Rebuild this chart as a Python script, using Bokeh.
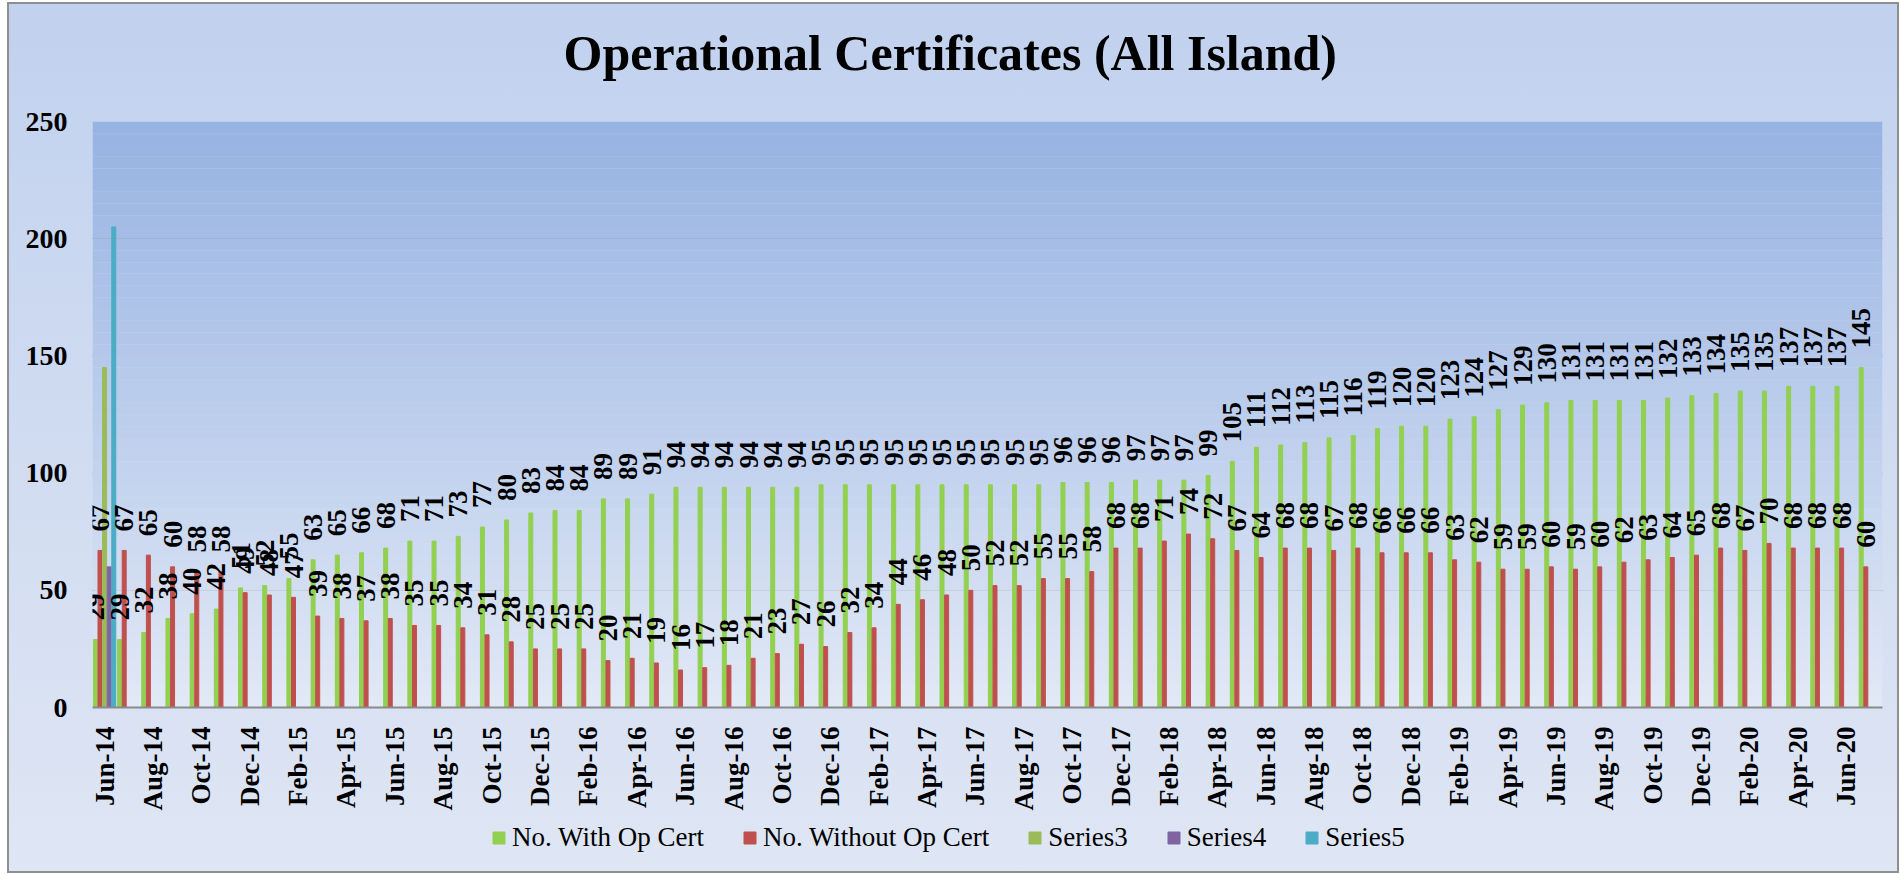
import math
from bokeh.plotting import figure
from bokeh.layouts import column
from bokeh.models import (ColumnDataSource, Range1d, FixedTicker, Legend, LegendItem,
                          BoxAnnotation)
from bokeh.transform import dodge
from bokeh.core.properties import value
from bokeh.embed import file_html
from bokeh.resources import INLINE

months = ["Jun-14", "Jul-14", "Aug-14", "Sep-14", "Oct-14", "Nov-14", "Dec-14",
          "Jan-15", "Feb-15", "Mar-15", "Apr-15", "May-15", "Jun-15", "Jul-15", "Aug-15",
          "Sep-15", "Oct-15", "Nov-15", "Dec-15",
          "Jan-16", "Feb-16", "Mar-16", "Apr-16", "May-16", "Jun-16", "Jul-16", "Aug-16",
          "Sep-16", "Oct-16", "Nov-16", "Dec-16",
          "Jan-17", "Feb-17", "Mar-17", "Apr-17", "May-17", "Jun-17", "Jul-17", "Aug-17",
          "Sep-17", "Oct-17", "Nov-17", "Dec-17",
          "Jan-18", "Feb-18", "Mar-18", "Apr-18", "May-18", "Jun-18", "Jul-18", "Aug-18",
          "Sep-18", "Oct-18", "Nov-18", "Dec-18",
          "Jan-19", "Feb-19", "Mar-19", "Apr-19", "May-19", "Jun-19", "Jul-19", "Aug-19",
          "Sep-19", "Oct-19", "Nov-19", "Dec-19",
          "Jan-20", "Feb-20", "Mar-20", "Apr-20", "May-20", "Jun-20", "Jul-20"]

with_cert = [29, 29, 32, 38, 40, 42, 51, 52, 55, 63, 65, 66, 68, 71, 71, 73, 77, 80, 83,
             84, 84, 89, 89, 91, 94, 94, 94, 94, 94, 94, 95, 95, 95, 95, 95, 95, 95, 95,
             95, 95, 96, 96, 96, 97, 97, 97, 99, 105, 111, 112, 113, 115, 116, 119, 120,
             120, 123, 124, 127, 129, 130, 131, 131, 131, 131, 132, 133, 134, 135, 135,
             137, 137, 137, 145]

without_cert = [67, 67, 65, 60, 58, 58, 49, 48, 47, 39, 38, 37, 38, 35, 35, 34, 31, 28,
                25, 25, 25, 20, 21, 19, 16, 17, 18, 21, 23, 27, 26, 32, 34, 44, 46, 48,
                50, 52, 52, 55, 55, 58, 68, 68, 71, 74, 72, 67, 64, 68, 68, 67, 68, 66,
                66, 66, 63, 62, 59, 59, 60, 59, 60, 62, 63, 64, 65, 68, 67, 70, 68, 68,
                68, 60]

series3 = [145]
series4 = [60]
series5 = [205]

y_ticks = [0, 50, 100, 150, 200, 250]

series_names = ["No. With Op Cert", "No. Without Op Cert", "Series3", "Series4", "Series5"]
series_colors = ["#92d050", "#c0504d", "#9bbb59", "#8064a2", "#4bacc6"]

title_text = "Operational Certificates (All Island)"

FONT = "Liberation Serif"


def strip(height):
    # frames of the column's plots are aligned with the main chart's frame (85..1875)
    f = figure(width=1892, height=height, output_backend="svg", toolbar_location=None,
               x_range=Range1d(85, 1875), y_range=Range1d(0, height),
               x_axis_type=None, y_axis_type=None,
               min_border_left=0, min_border_right=0, min_border_top=0,
               min_border_bottom=0)
    f.grid.visible = False
    f.border_fill_alpha = 0
    f.background_fill_alpha = 0
    f.outline_line_color = None
    return f


# ---- title strip
tf = strip(90)
tf.text(x=[556], y=[40], text=[title_text], text_align="left",
        text_baseline="alphabetic", text_font=value(FONT), text_font_style="bold",
        text_font_size="50px", text_color="black")

# ---- main chart
idx = list(range(len(months)))
src = ColumnDataSource(dict(
    x=idx, w=with_cert, wo=without_cert,
    wl=[str(v) for v in with_cert], wol=[str(v) for v in without_cert]))
src_extra = ColumnDataSource(dict(x=[0], s3=series3, s4=series4, s5=series5))

p = figure(frame_width=1790, frame_height=586, output_backend="svg",
           toolbar_location=None,
           x_range=Range1d(-0.5, len(months) - 0.5), y_range=Range1d(0, 250),
           min_border_left=85, min_border_right=17, min_border_top=29,
           min_border_bottom=105)
p.border_fill_alpha = 0
p.background_fill_alpha = 0
p.outline_line_color = None

# plot-area gradient
top_c = (0x96, 0xb2, 0xe2)
bot_c = (0xe2, 0xe9, 0xf6)
nb = 50
for i in range(nb):
    t = (i + 0.5) / nb
    c = tuple(int(round(bot_c[k] + (top_c[k] - bot_c[k]) * t)) for k in range(3))
    p.add_layout(BoxAnnotation(bottom=250 * i / nb, top=250 * (i + 1) / nb,
                               fill_color="#%02x%02x%02x" % c, fill_alpha=1.0,
                               line_color=None, level="underlay"))

W = 0.165
p.vbar(x=dodge("x", -0.38, range=p.x_range), top="w", width=W, source=src,
       color=series_colors[0])
p.vbar(x=dodge("x", -0.19, range=p.x_range), top="wo", width=W, source=src,
       color=series_colors[1])
p.vbar(x=dodge("x", 0.0, range=p.x_range), top="s3", width=W, source=src_extra,
       color=series_colors[2])
p.vbar(x=dodge("x", 0.19, range=p.x_range), top="s4", width=W, source=src_extra,
       color=series_colors[3])
p.vbar(x=dodge("x", 0.38, range=p.x_range), top="s5", width=W, source=src_extra,
       color=series_colors[4])

lbl_kw = dict(angle=math.pi / 2, text_align="left", text_baseline="middle",
              y_offset=-19, text_font=value(FONT), text_font_style="bold",
              text_font_size="27px", text_color="black", source=src)
p.text(x=dodge("x", -0.38, range=p.x_range), y="w", text="wl", **lbl_kw)
p.text(x=dodge("x", -0.19, range=p.x_range), y="wo", text="wol", **lbl_kw)

p.xgrid.visible = False
p.ygrid.grid_line_color = "#8a8a8a"
p.ygrid.grid_line_width = 2
p.yaxis.ticker = FixedTicker(ticks=y_ticks)
p.yaxis.axis_line_color = None
p.yaxis.major_tick_line_color = None
p.yaxis.minor_tick_line_color = None
p.yaxis.major_label_standoff = 19
p.yaxis.major_label_text_font = FONT
p.yaxis.major_label_text_font_style = "bold"
p.yaxis.major_label_text_font_size = "28px"
p.yaxis.major_label_text_color = "black"

p.xaxis.ticker = FixedTicker(ticks=idx[::2])
p.xaxis.major_label_overrides = {i: months[i] for i in idx[::2]}
p.xaxis.major_label_orientation = math.pi / 2
p.xaxis.axis_line_color = "#8a8a8a"
p.xaxis.axis_line_width = 2
p.xaxis.major_tick_line_color = None
p.xaxis.minor_tick_line_color = None
p.xaxis.major_label_standoff = 13
p.xaxis.major_label_text_font = FONT
p.xaxis.major_label_text_font_style = "bold"
p.xaxis.major_label_text_font_size = "27px"
p.xaxis.major_label_text_color = "black"

# ---- legend strip
lg = strip(60)
items = []
for name, col in zip(series_names, series_colors):
    r = lg.vbar(x=[5000], top=[1], width=1, color=col)
    items.append(LegendItem(label=name, renderers=[r]))
legend = Legend(items=items, orientation="horizontal", location=(399, 20),
                label_text_font=FONT, label_text_font_size="27px",
                label_text_color="black", glyph_width=15, glyph_height=15,
                label_standoff=6, spacing=38, padding=4, margin=0,
                border_line_color=None, background_fill_alpha=0)
lg.add_layout(legend)

layout = column(tf, p, lg, spacing=0)
layout.styles = {"background": "linear-gradient(to bottom, #c1d1ee 0%, #dfe6f4 100%)",
                 "box-shadow": "inset 0 0 0 2px #8f8f8f",
                 "margin-left": "7px", "margin-top": "2px"}

open("out.html", "w").write(file_html(layout, INLINE))
